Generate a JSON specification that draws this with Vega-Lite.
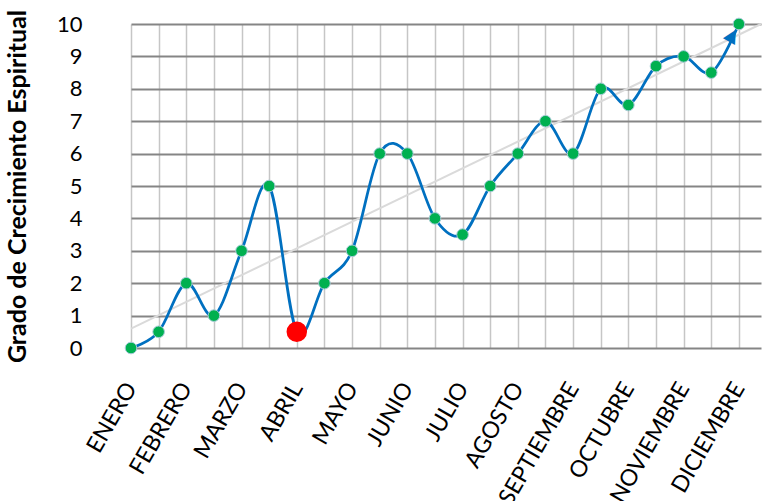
{
  "$schema": "https://vega.github.io/schema/vega-lite/v6.json",
  "width": 630,
  "height": 324,
  "autosize": {"type": "none"},
  "padding": {"left": 131, "top": 24, "right": 2, "bottom": 153},
  "background": "white",
  "config": {"view": {"stroke": null}, "font": "Lato"},
  "datasets": {
    "crecimiento": [
      {"i": 0, "valor": 0},
      {"i": 1, "valor": 0.5},
      {"i": 2, "valor": 2},
      {"i": 3, "valor": 1},
      {"i": 4, "valor": 3},
      {"i": 5, "valor": 5},
      {"i": 6, "valor": 0.5},
      {"i": 7, "valor": 2},
      {"i": 8, "valor": 3},
      {"i": 9, "valor": 6},
      {"i": 10, "valor": 6},
      {"i": 11, "valor": 4},
      {"i": 12, "valor": 3.5},
      {"i": 13, "valor": 5},
      {"i": 14, "valor": 6},
      {"i": 15, "valor": 7},
      {"i": 16, "valor": 6},
      {"i": 17, "valor": 8},
      {"i": 18, "valor": 7.5},
      {"i": 19, "valor": 8.7},
      {"i": 20, "valor": 9},
      {"i": 21, "valor": 8.5},
      {"i": 22, "valor": 10}
    ],
    "tendencia": [
      {"i": 0, "valor": 0.6},
      {"i": 22.8, "valor": 10}
    ]
  },
  "encoding": {
    "x": {
      "field": "i",
      "type": "quantitative",
      "scale": {"domain": [0, 22.8], "nice": false, "zero": false},
      "axis": {
        "title": null,
        "values": [0, 1, 2, 3, 4, 5, 6, 7, 8, 9, 10, 11, 12, 13, 14, 15, 16, 17, 18, 19, 20, 21, 22],
        "labelExpr": "datum.value % 2 == 0 ? ['ENERO','FEBRERO','MARZO','ABRIL','MAYO','JUNIO','JULIO','AGOSTO','SEPTIEMBRE','OCTUBRE','NOVIEMBRE','DICIEMBRE'][datum.value / 2] : ''",
        "grid": true,
        "gridColor": "#c6c6c6",
        "gridWidth": 1.5,
        "domain": false,
        "ticks": false,
        "labelAngle": -60,
        "labelAlign": "right",
        "labelBaseline": "middle",
        "labelPadding": 36,
        "labelFontSize": 23,
        "labelColor": "#000000",
        "labelOverlap": false,
        "labelFlush": false,
        "labelBound": false
      }
    },
    "y": {
      "field": "valor",
      "type": "quantitative",
      "scale": {"domain": [0, 10], "nice": false},
      "axis": {
        "title": "Grado de Crecimiento Espiritual",
        "values": [0, 1, 2, 3, 4, 5, 6, 7, 8, 9, 10],
        "grid": true,
        "gridColor": "#858585",
        "gridWidth": 2,
        "domain": false,
        "ticks": false,
        "labelPadding": 49,
        "labelFontSize": 22,
        "labelColor": "#000000",
        "titleFontSize": 25,
        "titleFontWeight": "bold",
        "titleColor": "#000000",
        "titleAngle": -90,
        "titleX": -114,
        "titleY": 162,
        "titleAlign": "center",
        "titleBaseline": "middle"
      }
    }
  },
  "layer": [
    {
      "data": {"name": "tendencia"},
      "mark": {"type": "line", "color": "#dadada", "strokeWidth": 2}
    },
    {
      "data": {"name": "crecimiento"},
      "mark": {"type": "line", "interpolate": "cardinal", "color": "#0070C0", "strokeWidth": 2.75}
    },
    {
      "data": {"name": "crecimiento"},
      "transform": [{"filter": "datum.i == 22"}],
      "mark": {"type": "text", "text": "▲", "font": "DejaVu Sans", "fontSize": 18, "angle": 30, "dy": 13, "align": "center", "baseline": "middle", "color": "#0070C0"}
    },
    {
      "data": {"name": "crecimiento"},
      "transform": [{"filter": "datum.i != 6"}],
      "mark": {"type": "point", "shape": "circle", "filled": true, "size": 135, "color": "#00B050", "stroke": "#a6cbd8", "strokeWidth": 1, "opacity": 1}
    },
    {
      "data": {"name": "crecimiento"},
      "transform": [{"filter": "datum.i == 6"}],
      "mark": {"type": "point", "shape": "circle", "filled": true, "size": 420, "color": "#FF0000", "opacity": 1}
    }
  ]
}
